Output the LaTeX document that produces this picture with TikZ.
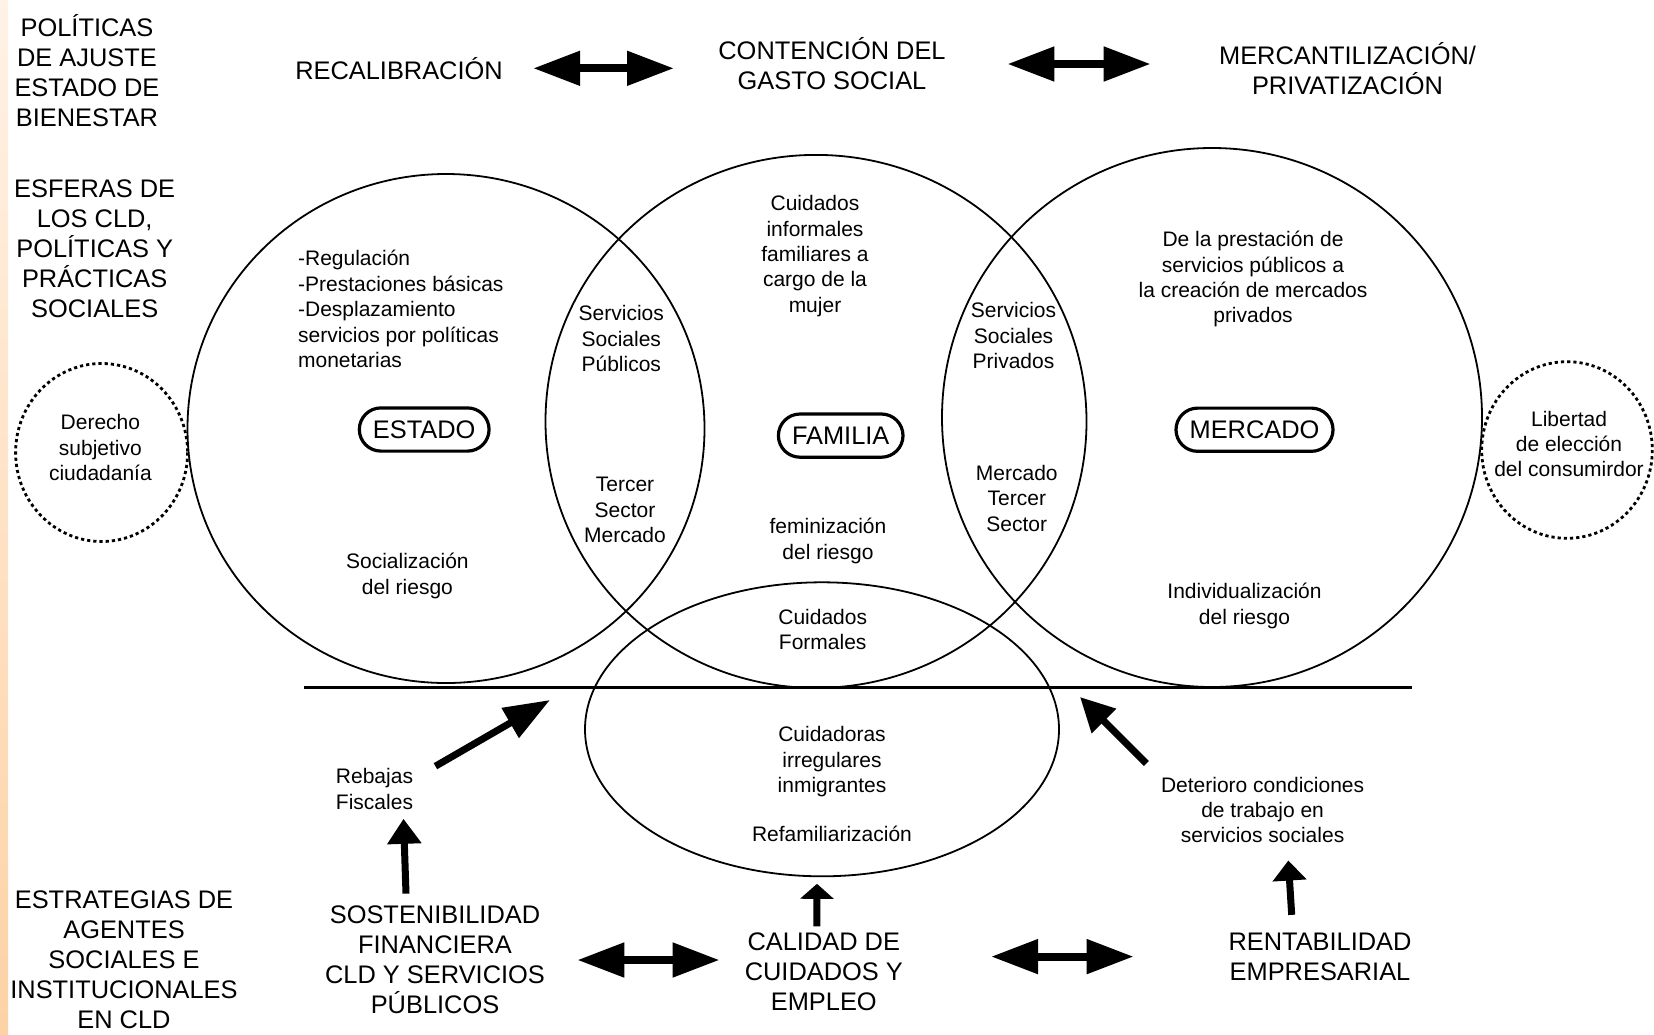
\documentclass[tikz,border=0pt]{standalone}
\usepackage{fontspec}
\setmainfont{Liberation Sans}
\usetikzlibrary{arrows.meta,shapes.geometric}
\definecolor{durazno}{RGB}{253,210,165}
\definecolor{duraznoclaro}{RGB}{255,242,230}
\begin{document}
\begin{tikzpicture}[x=0.5pt,y=-0.5pt,
		grande/.style={font=\fontsize{12.7}{15}\selectfont,align=center,inner sep=0pt},
		chico/.style={font=\fontsize{10.5}{12.7}\selectfont,align=center,inner sep=0pt},
		esfera/.style={draw,line width=1.6pt,rounded corners=10.8pt,inner xsep=6.8pt,inner ysep=0pt,minimum height=21.6pt,font=\fontsize{12.7}{15}\selectfont},
		punteada/.style={line width=1.4pt,dash pattern=on 1.6pt off 1.5pt},
		doble/.style={{Triangle[length=23.5pt,width=16.5pt]}-{Triangle[length=23.5pt,width=16.5pt]},line width=4pt},
		flecha/.style={-{Triangle[length=#1,width=16.5pt]},line width=3.5pt},
		flecha/.default=12pt]
		\useasboundingbox (0,0) rectangle (1654,1034);
		\fill[white] (0,0) rectangle (1654,1034);
		\shade[top color=duraznoclaro,bottom color=durazno] (0,0) rectangle (8,1034);
		\draw[line width=0.9pt] (446,428.5) ellipse[x radius=258.5,y radius=254.5];
		\draw[line width=0.9pt] (816,421.4) ellipse[x radius=270.5,y radius=266.5];
		\draw[line width=0.9pt] (1212,417.5) ellipse[x radius=270,y radius=269.5];
		\node[ellipse,draw,line width=0.9pt,minimum width=237pt,minimum height=147pt,inner sep=0pt] (cuidado) at (822,729.3) {};
		\coordinate (izq) at (304,687.5);
		\coordinate (der) at (1412,687.5);
		\draw[line width=1.8pt] (izq) -- (der);
		\draw[punteada] (101.6,452.5) ellipse[x radius=86, y radius=89];
		\draw[punteada] (1567,450) ellipse[x radius=85.3, y radius=88.3];

		\node[grande] (politicas) at (87,71) {POLÍTICAS\\DE AJUSTE\\ESTADO DE\\BIENESTAR};
		\node[grande] (esferas) at (94.7,249) {ESFERAS DE\\LOS CLD,\\POLÍTICAS Y\\PRÁCTICAS\\SOCIALES};
		\node[grande] (estrategias) at (124,960) {ESTRATEGIAS DE\\AGENTES\\SOCIALES E\\INSTITUCIONALES\\EN CLD};
		\node[grande] (recal) at (399,68.3) {RECALIBRACIÓN};
		\node[grande] (contencion) at (832,64) {CONTENCIÓN DEL\\GASTO SOCIAL};
		\node[grande] (mercant) at (1347.5,68.3) {MERCANTILIZACIÓN/\\PRIVATIZACIÓN};
		\node[grande] (sosten) at (435,960) {SOSTENIBILIDAD\\FINANCIERA\\CLD Y SERVICIOS\\PÚBLICOS};
		\node[grande] (calidad) at (823.8,972) {CALIDAD DE\\CUIDADOS Y\\EMPLEO};
		\node[grande] (rentab) at (1320,956.6) {RENTABILIDAD\\EMPRESARIAL};

		\node[chico,align=left,anchor=west] (regulacion) at (297.7,309) {-Regulación\\-Prestaciones básicas\\-Desplazamiento\\servicios por políticas\\monetarias};
		\node[chico] (socializ) at (407.4,576) {Socialización\\del riesgo};
		\node[chico] (spublicos) at (621.3,338.6) {Servicios\\Sociales\\Públicos};
		\node[chico] (tercer) at (625,510) {Tercer\\Sector\\Mercado};
		\node[chico] (informales) at (815,256) {Cuidados\\informales\\familiares a\\cargo de la\\mujer};
		\node[chico] (feminiz) at (828,541) {feminización\\del riesgo};
		\node[chico] (formales) at (822.7,629.7) {Cuidados\\Formales};
		\node[chico] (sprivados) at (1013.5,335.8) {Servicios\\Sociales\\Privados};
		\node[chico] (mercterc) at (1016.8,498.3) {Mercado\\Tercer\\Sector};
		\node[chico] (prestacion) at (1253,279.3) {De la prestación de\\servicios públicos a\\la creación de mercados\\privados};
		\node[chico] (individ) at (1244.5,605.8) {Individualización\\del riesgo};
		\node[chico] (cuidadoras) at (832,761.7) {Cuidadoras\\irregulares\\inmigrantes};
		\node[chico] (refam) at (832,834) {Refamiliarización};
		\node[chico] (rebajas) at (374.5,789) {Rebajas\\Fiscales};
		\node[chico] (deterioro) at (1262.6,810) {Deterioro condiciones\\de trabajo en\\servicios sociales};
		\node[chico] (derecho) at (100.4,447.8) {Derecho\\subjetivo\\ciudadanía};
		\node[chico] (libertad) at (1569,444) {Libertad\\de elección\\del consumirdor};

		\node[esfera] (estado) at (424.2,429.5) {ESTADO};
		\node[esfera] (familia) at (840.7,435.6) {FAMILIA};
		\node[esfera] (mercado) at (1254.5,429.7) {MERCADO};

		\draw[doble,shorten <=15pt,shorten >=22pt] (recal.east) -- (recal.east -| contencion.west);
		\draw[doble,shorten <=30.7pt,shorten >=34pt] (contencion.east) -- (contencion.east -| mercant.west);
		\draw[doble,shorten <=16pt,shorten >=12.4pt] (sosten.east) -- (sosten.east -| calidad.west);
		\draw[doble,shorten <=43.9pt,shorten >=47.2pt] (rentab.west -| calidad.east) -- (rentab.west);

		\coordinate (puntaA) at (550,700);
		\coordinate (puntaB) at (1080,697);
		\draw[flecha=12.5pt] ([shift={(-29,-12)}]sosten.north) -- ([shift={(29,9)}]rebajas.south);
		\draw[flecha=23pt] ([shift={(22,-2)}]rebajas.north east) -- (puntaA);
		\draw[flecha=17pt] ([shift={(-14.3,-13)}]deterioro.north west) -- (puntaB);
		\draw[flecha=10pt] ([shift={(-28.3,-17.5)}]rentab.north) -- ([shift={(25.7,17)}]deterioro.south);
		\draw[flecha=7.5pt] ([shift={(-7,-6.2)}]calidad.north) -- ([shift={(-5,6.6)}]cuidado.south);
	\end{tikzpicture}
\end{document}
